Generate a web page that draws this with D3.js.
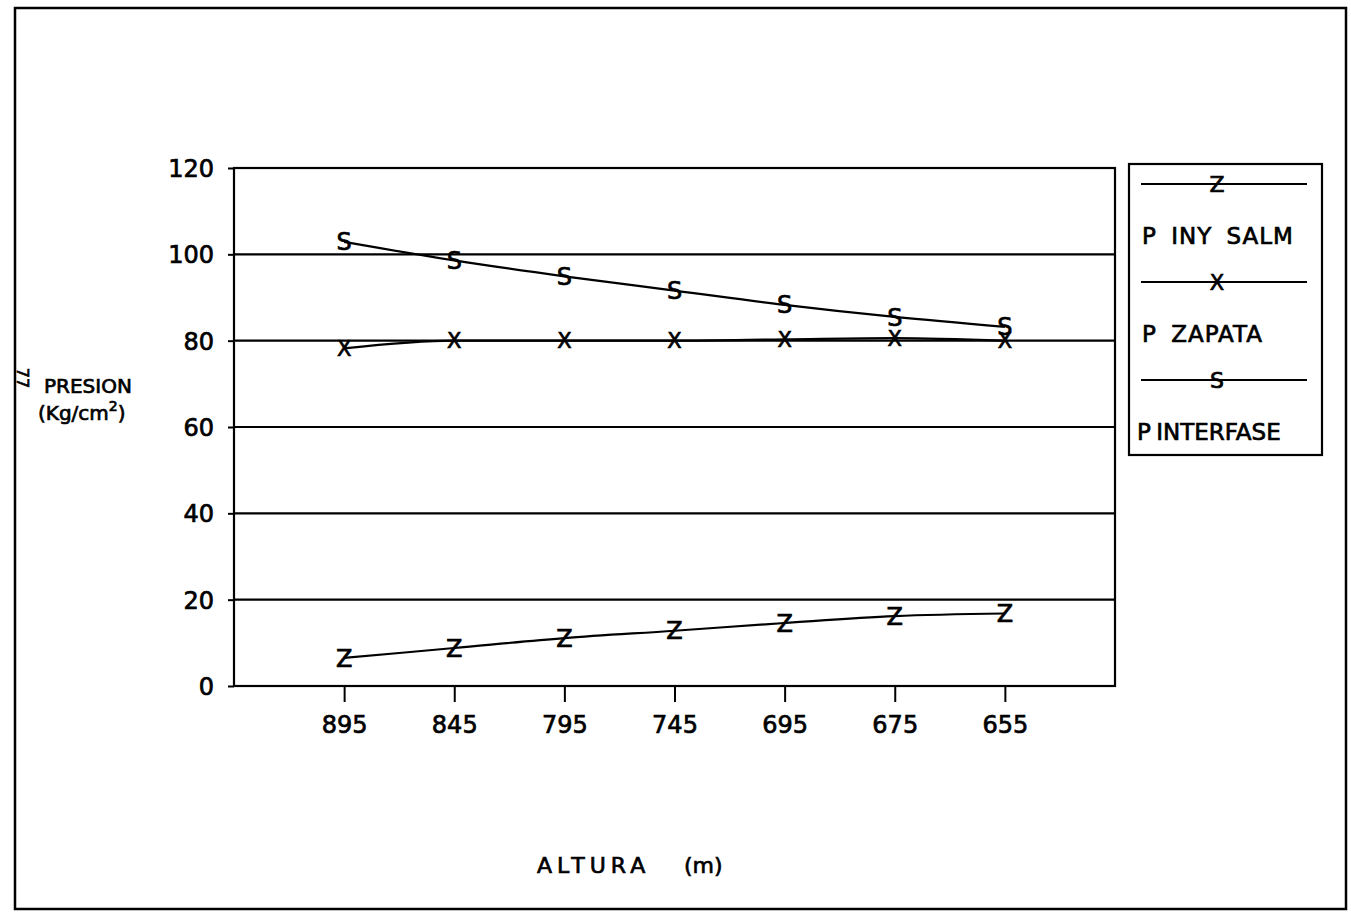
<!DOCTYPE html>
<html>
<head>
<meta charset="utf-8">
<script src="https://cdn.jsdelivr.net/npm/d3@7"></script>
<style>
  body { margin: 0; background: #fff; }
  text { font-family: "DejaVu Sans", "Liberation Sans", sans-serif; fill: #000; stroke: #000; stroke-width: 0.7px; }
</style>
</head>
<body>
<div id="chart"></div>
<script>
// alturas (categorias del eje x)
var alturas = ["895", "845", "795", "745", "695", "675", "655"];
var yTicks = [0, 20, 40, 60, 80, 100, 120];

// presiones
var pInySalm = [6.5, 8.8, 11.1, 12.8, 14.6, 16.2, 16.8];
var pZapata = [78.2, 80, 80, 80, 80.3, 80.6, 80];
var pInterfase = [102.9, 98.6, 94.9, 91.6, 88.3, 85.5, 83.2];

var series = [
  {name: "P INY SALM", mark: "Z", values: pInySalm},
  {name: "P ZAPATA", mark: "X", values: pZapata},
  {name: "P INTERFASE", mark: "S", values: pInterfase}
];

var W = 1351, H = 916;
var margin = {top: 168, right: 236, bottom: 230, left: 234},
    width = W - margin.left - margin.right,
    height = H - margin.top - margin.bottom;

var svg = d3.select("#chart").append("svg")
    .attr("width", W)
    .attr("height", H);

// marco exterior
svg.append("rect")
    .attr("x", 15).attr("y", 8)
    .attr("width", 1331).attr("height", 901)
    .attr("fill", "none")
    .attr("stroke", "#000")
    .attr("stroke-width", 2.5);

// numero de pagina girado
svg.append("text")
    .attr("transform", "translate(17,378) rotate(90)")
    .attr("text-anchor", "middle")
    .attr("font-size", 16)
    .text("77");

var g = svg.append("g")
    .attr("transform", "translate(" + margin.left + "," + margin.top + ")");

var x = d3.scaleLinear().domain([0, alturas.length + 1]).range([0, width]);
var y = d3.scaleLinear().domain([0, 120]).range([height, 0]);

// lineas horizontales
g.selectAll(".grid")
  .data(yTicks.filter(function(d) { return d > 0 && d < 120; }))
  .enter().append("line")
    .attr("x1", 0).attr("x2", width)
    .attr("y1", function(d) { return y(d); })
    .attr("y2", function(d) { return y(d); })
    .attr("stroke", "#000")
    .attr("stroke-width", 2.2);

// caja del grafico
g.append("rect")
    .attr("width", width).attr("height", height)
    .attr("fill", "none")
    .attr("stroke", "#000")
    .attr("stroke-width", 2.2);

// eje y
var yAxis = g.append("g")
    .call(d3.axisLeft(y).tickValues(yTicks).tickSize(6).tickPadding(14));
yAxis.select(".domain").remove();
yAxis.selectAll("line").attr("stroke-width", 2);
yAxis.selectAll("text").attr("font-size", 24).attr("font-family", "DejaVu Sans").attr("dy", "0.36em");

// eje x
var xAxis = g.append("g")
    .attr("transform", "translate(0," + height + ")")
    .call(d3.axisBottom(x)
      .tickValues(d3.range(1, alturas.length + 1))
      .tickFormat(function(d) { return alturas[d - 1]; })
      .tickSize(16).tickPadding(14));
xAxis.select(".domain").remove();
xAxis.selectAll("line").attr("stroke-width", 2);
xAxis.selectAll("text").attr("font-size", 24).attr("font-family", "DejaVu Sans");

var line = d3.line()
    .x(function(d, i) { return x(i + 1); })
    .y(function(d) { return y(d); })
    .curve(d3.curveMonotoneX);

series.forEach(function(s) {
  g.append("path")
    .datum(s.values)
    .attr("fill", "none")
    .attr("stroke", "#000")
    .attr("stroke-width", 2.2)
    .attr("d", line);
  g.selectAll(null)
    .data(s.values)
    .enter().append("text")
      .attr("x", function(d, i) { return x(i + 1); })
      .attr("y", function(d) { return y(d); })
      .attr("dy", "0.36em")
      .attr("text-anchor", "middle")
      .attr("font-size", s.mark === "X" ? 21 : 24)
      .text(s.mark);
});

// titulo eje y
svg.append("text").attr("x", 44).attr("y", 393).attr("font-size", 20).text("PRESION");
var yl = svg.append("text").attr("x", 38).attr("y", 420).attr("font-size", 20);
yl.append("tspan").text("(Kg/cm");
yl.append("tspan").attr("font-size", 14).attr("dy", -9).text("2");
yl.append("tspan").attr("dy", 9).text(")");

// titulo eje x
svg.append("text")
    .attr("x", 537).attr("y", 873)
    .attr("font-size", 22)
    .attr("letter-spacing", 5)
    .text("ALTURA");
svg.append("text")
    .attr("x", 684).attr("y", 873)
    .attr("font-size", 22)
    .text("(m)");

// leyenda
var lg = svg.append("g").attr("transform", "translate(1129,164)");
lg.append("rect")
    .attr("width", 193).attr("height", 291)
    .attr("fill", "none")
    .attr("stroke", "#000")
    .attr("stroke-width", 2.2);
var legY = [20, 118, 216];
series.forEach(function(s, i) {
  lg.append("line")
    .attr("x1", 12).attr("x2", 178)
    .attr("y1", legY[i]).attr("y2", legY[i])
    .attr("stroke", "#000").attr("stroke-width", 2);
  lg.append("text")
    .attr("x", 88).attr("y", legY[i]).attr("dy", "0.36em")
    .attr("text-anchor", "middle")
    .attr("font-size", s.mark === "X" ? 21 : 22)
    .text(s.mark);
  lg.append("text")
    .attr("x", i === 2 ? 8 : 13).attr("y", legY[i] + 52).attr("dy", "0.36em")
    .attr("font-size", 23)
    .attr("letter-spacing", i === 2 ? 0 : 1)
    .attr("word-spacing", i === 2 ? -2 : 6)
    .text(s.name);
});
</script>
</body>
</html>
